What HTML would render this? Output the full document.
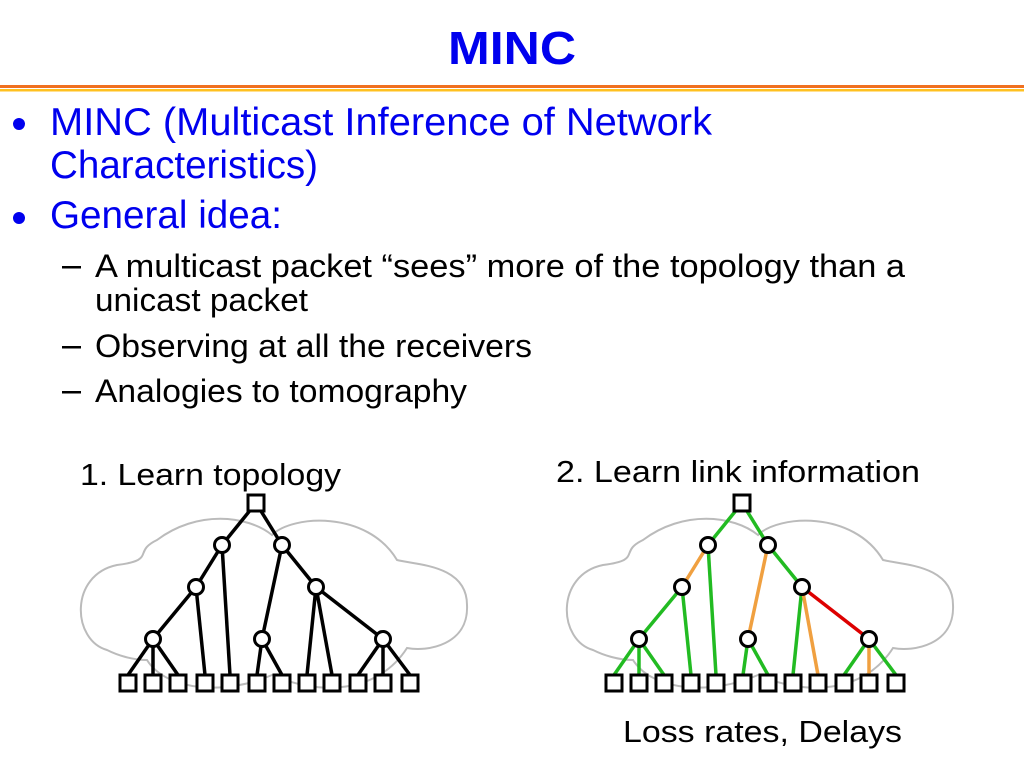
<!DOCTYPE html>
<html><head><meta charset="utf-8"><style>
html,body{margin:0;padding:0;background:#fff;}
svg{display:block;}
</style></head><body>
<svg id="s" width="1024" height="768" xmlns="http://www.w3.org/2000/svg">
<rect width="1024" height="768" fill="#fff"/>
<text x="512" y="64" text-anchor="middle" font-family="Liberation Sans, sans-serif" font-weight="bold" font-size="46" fill="#0000ee" textLength="128" lengthAdjust="spacingAndGlyphs">MINC</text>
<rect x="0" y="85" width="1024" height="3" fill="#f07020"/>
<rect x="0" y="89" width="1024" height="2.5" fill="#ffc020"/>
<g font-family="Liberation Sans, sans-serif" fill="#0000ee" font-size="39">
<circle cx="19" cy="124" r="6"/>
<circle cx="19" cy="218" r="6"/>
<text x="50" y="135" textLength="662" lengthAdjust="spacingAndGlyphs">MINC (Multicast Inference of Network</text>
<text x="50" y="178" textLength="268" lengthAdjust="spacingAndGlyphs">Characteristics)</text>
<text x="50" y="228" textLength="232" lengthAdjust="spacingAndGlyphs">General idea:</text>
</g>
<g font-family="Liberation Sans, sans-serif" fill="#000" font-size="32">
<rect x="62" y="266" width="19" height="2.5"/>
<rect x="62" y="346" width="19" height="2.5"/>
<rect x="62" y="391" width="19" height="2.5"/>
<text x="95" y="277" textLength="810" lengthAdjust="spacingAndGlyphs">A multicast packet “sees” more of the topology than a</text>
<text x="95" y="311" textLength="213" lengthAdjust="spacingAndGlyphs">unicast packet</text>
<text x="95" y="357" textLength="437" lengthAdjust="spacingAndGlyphs">Observing at all the receivers</text>
<text x="95" y="402" textLength="372" lengthAdjust="spacingAndGlyphs">Analogies to tomography</text>
</g>
<g font-family="Liberation Sans, sans-serif" fill="#000" font-size="31">
<text x="80" y="485" textLength="261" lengthAdjust="spacingAndGlyphs">1. Learn topology</text>
<text x="556" y="482" textLength="364" lengthAdjust="spacingAndGlyphs">2. Learn link information</text>
<text x="623" y="742" textLength="279" lengthAdjust="spacingAndGlyphs">Loss rates, Delays</text>
</g>
<g id="t"></g>
</svg>
<script>
var NS="http://www.w3.org/2000/svg",g=document.getElementById('t');
function el(n,a){var e=document.createElementNS(NS,n);for(var k in a)e.setAttribute(k,a[k]);g.appendChild(e);return e;}
function cloud(ox){
 var d="M"+(ox+30)+",650 C"+(ox-5)+",640 "+(ox-8)+",575 "+(ox+40)+",565 C"+(ox+80)+",560 "+(ox+55)+",552 "+(ox+80)+",540 C"+(ox+120)+",510 "+(ox+170)+",515 "+(ox+195)+",535 C"+(ox+215)+",515 "+(ox+290)+",510 "+(ox+320)+",560 C"+(ox+340)+",565 "+(ox+390)+",565 "+(ox+390)+",605 C"+(ox+392)+",645 "+(ox+350)+",652 "+(ox+330)+",648 C"+(ox+300)+",695 "+(ox+240)+",695 "+(ox+195)+",675 C"+(ox+150)+",695 "+(ox+90)+",692 "+(ox+70)+",660 C"+(ox+55)+",660 "+(ox+40)+",655 "+(ox+30)+",650 Z";
 el('path',{d:d,fill:'none',stroke:'#bbb','stroke-width':2});
}
function tree(ox,cols){
 cloud(ox);
 var dx=ox-77;
 var N={r:[256,503],a:[222,545],b:[282,545],c:[196,587],d:[316,587],e:[153,639],f:[262,639],h:[383,639]};
 var L=[128,153,178,205,230,257,282,307,332,358,383,410];
 var E=[['r','a'],['r','b'],['a','c'],['a',4],['b','f'],['b','d'],['c','e'],['c',3],['d',7],['d',8],['d','h'],['e',0],['e',1],['e',2],['f',5],['f',6],['h',9],['h',10],['h',11]];
 function P(k){return typeof k=='number'?[L[k],675]:N[k];}
 E.forEach(function(e,i){var p=P(e[0]),q=P(e[1]);
  el('line',{x1:p[0]+dx,y1:p[1],x2:q[0]+dx,y2:q[1],stroke:cols?cols[i]:'#000','stroke-width':3.5});});
 for(var k in N){var p=N[k];
  if(k=='r')el('rect',{x:p[0]+dx-8,y:p[1]-8,width:16,height:16,fill:'#fff',stroke:'#000','stroke-width':3});
  else el('circle',{cx:p[0]+dx,cy:p[1],r:7.5,fill:'#fff',stroke:'#000','stroke-width':3});}
 L.forEach(function(x){el('rect',{x:x+dx-8,y:675,width:16,height:16,fill:'#fff',stroke:'#000','stroke-width':3});});
}
tree(77,null);
var G='#22bb22',O='#f0a040',R='#dd0000';
tree(77+486,[G,G,O,G,O,G,G,G,G,O,R,G,G,G,G,G,G,O,G]);
</script>
</body></html>
